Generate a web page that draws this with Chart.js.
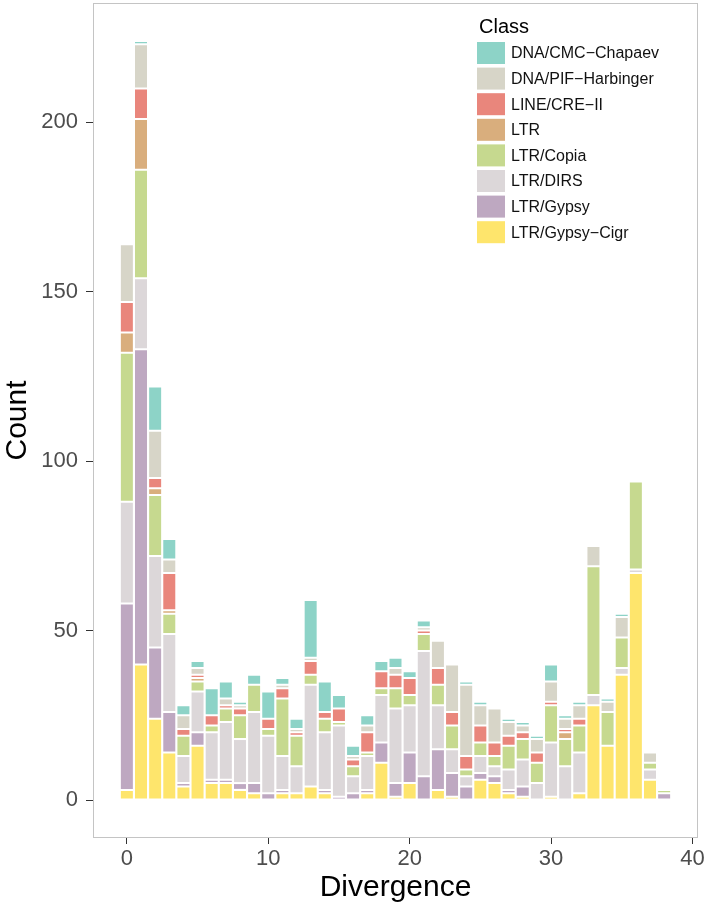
<!DOCTYPE html>
<html>
<head>
<meta charset="utf-8">
<script src="https://cdn.jsdelivr.net/npm/chart.js@4.4.1/dist/chart.umd.min.js"></script>
<style>
html,body{margin:0;padding:0;background:#ffffff;}
#wrap{width:709px;height:910px;position:relative;}
</style>
</head>
<body>
<div id="wrap"><canvas id="c" width="709" height="910"></canvas></div>
<script>
// ---- data ----
const divergence = [0,1,2,3,4,5,6,7,8,9,10,11,12,13,14,15,16,17,18,19,20,21,22,23,24,25,26,27,28,29,30,31,32,33,34,35,36,37,38];
const classNames = ["DNA/CMC\u2212Chapaev","DNA/PIF\u2212Harbinger","LINE/CRE\u2212II","LTR","LTR/Copia","LTR/DIRS","LTR/Gypsy","LTR/Gypsy\u2212Cigr"];
const cmcChapaev   = [0,1,13,6,3,2,8,5,1,3,8,2,3,17,9,4,3,3,3,3,2,2,0,0,1,1,0,1,1,1,5,1,1,0,1,1,0,0,0];
const pifHarbinger = [17,13,14,4,4,2,0,2,1,0,0,1,1,1,0,0,1,2,0,2,0,1,8,14,21,6,10,4,2,4,6,3,4,6,3,6,0,3,0];
const lineCreII    = [9,9,3,11,2,1,3,1,2,0,3,3,1,4,2,4,2,6,5,4,5,1,5,4,4,5,4,3,2,3,1,1,2,0,0,0,0,0,0];
const ltr          = [6,15,2,1,0,1,0,0,0,0,0,0,0,0,0,0,0,0,0,0,0,0,0,0,0,0,0,0,0,0,0,2,0,0,0,0,0,0,0];
const ltrCopia     = [44,32,18,6,6,3,2,4,7,8,2,17,9,3,4,1,3,1,2,6,3,5,6,7,2,4,3,7,6,6,11,8,8,38,10,9,26,2,1];
const ltrDirs      = [30,21,27,23,8,12,14,17,13,21,17,10,8,30,17,21,5,10,14,22,14,37,13,7,3,5,3,6,8,5,16,10,12,3,0,2,1,3,0];
const ltrGypsy     = [55,93,21,12,1,4,1,1,2,3,2,1,0,0,1,1,2,1,6,4,9,7,12,7,4,2,2,1,3,0,0,0,0,0,0,0,0,0,2];
const ltrGypsyCigr = [3,40,24,14,4,16,5,5,3,2,0,2,2,4,2,0,0,2,11,1,5,0,3,1,0,6,5,2,1,0,1,0,2,28,16,37,67,6,0];
const xTicks = [0,10,20,30,40];
const yTicks = [0,50,100,150,200];

// legend order (top to bottom) and colours
const seriesValues = [cmcChapaev, pifHarbinger, lineCreII, ltr, ltrCopia, ltrDirs, ltrGypsy, ltrGypsyCigr];
const seriesColors = ["#8dd3c7","#d7d5c8","#e9867c","#d9ae7d","#c6d98f","#dcd7d9","#bea8c1","#fee56c"];

const FONT = '"Liberation Sans", Arial, Helvetica, sans-serif';
Chart.defaults.font.family = FONT;

// stacking order: bottom first (reverse of legend)
const datasets = [];
for (let i = classNames.length - 1; i >= 0; i--) {
  datasets.push({
    label: classNames[i],
    data: divergence.map((d, k) => ({x: d, y: seriesValues[i][k] === 0 ? null : seriesValues[i][k]})),
    backgroundColor: seriesColors[i],
    borderColor: "#ffffff",
    borderWidth: 1,
    borderSkipped: false,
    categoryPercentage: 0.99,
    barPercentage: 1.0
  });
}

const panelBorder = {
  id: "panelBorder",
  afterDatasetsDraw(chart) {
    const {ctx, chartArea: a} = chart;
    ctx.save();
    ctx.strokeStyle = "#c4c4c4";
    ctx.lineWidth = 1;
    ctx.strokeRect(Math.round(a.left) + 0.5, Math.round(a.top) + 0.5,
                   Math.round(a.right - a.left) - 1, Math.round(a.bottom - a.top) - 1);
    ctx.restore();
  }
};

const insideLegend = {
  id: "insideLegend",
  afterDraw(chart) {
    const ctx = chart.ctx;
    ctx.save();
    ctx.fillStyle = "#000000";
    ctx.font = "20px " + FONT;
    ctx.textAlign = "left";
    ctx.textBaseline = "alphabetic";
    ctx.fillText("Class", 479, 33);
    const x0 = 477, y0 = 42, kw = 28, kh = 22, pitch = 25.6;
    ctx.font = "16px " + FONT;
    ctx.textBaseline = "middle";
    for (let i = 0; i < classNames.length; i++) {
      const y = y0 + i * pitch;
      ctx.fillStyle = seriesColors[i];
      ctx.fillRect(x0, y, kw, kh);
      ctx.fillStyle = "#111111";
      ctx.fillText(classNames[i], 511, y + kh / 2 + 1);
    }
    ctx.restore();
  }
};

new Chart(document.getElementById("c"), {
  type: "bar",
  data: {datasets},
  plugins: [panelBorder, insideLegend],
  options: {
    responsive: false,
    animation: false,
    devicePixelRatio: 1,
    layout: {padding: {left: 0, right: 11, top: 3, bottom: 0}},
    plugins: {legend: {display: false}, tooltip: {enabled: false}},
    scales: {
      x: {
        type: "linear",
        stacked: true,
        offset: false,
        min: -2.395,
        max: 40.395,
        afterBuildTicks: s => { s.ticks = xTicks.map(v => ({value: v})); },
        ticks: {font: {size: 22}, color: "#4d4d4d", padding: 2, maxRotation: 0, autoSkip: false},
        grid: {display: true, offset: false, drawOnChartArea: false, drawTicks: true, tickLength: 6, tickColor: "#333333", tickWidth: 1},
        border: {display: false},
        title: {display: true, text: "Divergence", font: {size: 30}, color: "#000000", padding: {top: 0, bottom: 4}},
        afterFit: s => { s.height = 72; s.paddingLeft = 0; s.paddingRight = 0; }
      },
      y: {
        type: "linear",
        stacked: true,
        min: -11.2,
        max: 235.2,
        afterBuildTicks: s => { s.ticks = yTicks.map(v => ({value: v})); },
        ticks: {font: {size: 22}, color: "#4d4d4d", padding: 8},
        grid: {display: true, drawOnChartArea: false, drawTicks: true, tickLength: 7, tickColor: "#333333", tickWidth: 1},
        border: {display: false},
        title: {display: true, text: "Count", font: {size: 30}, color: "#000000", padding: {top: 0, bottom: 0}},
        afterFit: s => { s.width = 93; s.paddingTop = 0; s.paddingBottom = 0; }
      }
    }
  }
});
</script>
</body>
</html>
